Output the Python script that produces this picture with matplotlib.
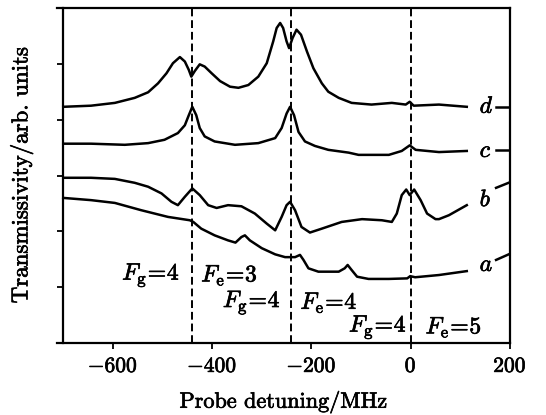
import matplotlib.pyplot as plt
import matplotlib.patheffects as pe
from matplotlib.text import Text

plt.rcParams['font.family'] = 'serif'
plt.rcParams['font.serif'] = ['cmr10', 'DejaVu Serif']
plt.rcParams['mathtext.fontset'] = 'cm'
plt.rcParams['axes.formatter.use_mathtext'] = True

# curve d (top)
d_x = [-700, -644, -596, -556, -529, -509, -492, -479, -465, -455, -447, -442,
       -435, -425, -415, -401, -384, -364, -347, -327, -307, -290, -277, -270,
       -263, -257, -250, -245, -238, -230, -221, -209, -196, -179, -166, -145,
       -119, -79, -38, -10, -2, 6, 57, 113]
d_y = [4.23, 4.25, 4.30, 4.39, 4.49, 4.65, 4.83, 5.01, 5.12, 5.04, 4.89, 4.77,
       4.87, 4.99, 4.95, 4.83, 4.69, 4.59, 4.57, 4.62, 4.77, 5.01, 5.40, 5.64,
       5.73, 5.64, 5.40, 5.28, 5.46, 5.61, 5.52, 5.22, 4.92, 4.65, 4.50, 4.39,
       4.30, 4.27, 4.30, 4.27, 4.32, 4.25, 4.27, 4.23]

# curve c
c_x = [-700, -644, -576, -529, -496, -469, -455, -447, -440, -432, -425, -415,
       -395, -354, -307, -273, -260, -250, -243, -235, -226, -213, -193, -166,
       -125, -105, -44, -18, -2, 10, 57, 113]
c_y = [3.57, 3.57, 3.55, 3.58, 3.64, 3.76, 3.90, 4.08, 4.23, 4.08, 3.85, 3.70,
       3.61, 3.55, 3.58, 3.67, 3.85, 4.11, 4.23, 4.08, 3.78, 3.61, 3.53, 3.46,
       3.41, 3.37, 3.37, 3.44, 3.54, 3.46, 3.42, 3.44]

# curve b
b_x = [-700, -644, -596, -556, -529, -502, -482, -469, -455, -440, -425, -408,
       -391, -368, -341, -314, -290, -273, -260, -250, -243, -233, -220, -203,
       -179, -139, -98, -58, -38, -28, -18, -9, -2, 7, 20, 33, 50, 57, 77, 113]
b_y = [2.96, 2.96, 2.94, 2.87, 2.80, 2.68, 2.53, 2.47, 2.62, 2.77, 2.65, 2.47,
       2.42, 2.47, 2.45, 2.32, 2.14, 2.02, 2.26, 2.47, 2.53, 2.38, 2.08, 1.98,
       2.05, 2.17, 2.22, 2.20, 2.17, 2.32, 2.65, 2.75, 2.65, 2.75, 2.56, 2.32,
       2.22, 2.22, 2.29, 2.47]

# curve a (bottom)
a_x = [-700, -644, -596, -543, -489, -445, -438, -422, -395, -368, -353, -341,
       -334, -324, -300, -273, -253, -233, -223, -216, -206, -186, -145, -133,
       -127, -119, -108, -85, -44, -7, -1, 9, 57, 113]
a_y = [2.60, 2.56, 2.51, 2.38, 2.26, 2.20, 2.17, 2.05, 1.93, 1.84, 1.80, 1.90,
       1.93, 1.84, 1.70, 1.59, 1.54, 1.54, 1.58, 1.49, 1.34, 1.28, 1.28, 1.34,
       1.40, 1.31, 1.19, 1.15, 1.15, 1.16, 1.20, 1.18, 1.22, 1.29]

# short pieces to the right of the curve labels
tail_x = [172, 200]
tail_d = [4.23, 4.23]
tail_c = [3.46, 3.46]
tail_b = [2.78, 2.88]
tail_a = [1.49, 1.60]

curve_names = ['d', 'c', 'b', 'a']
name_y = [4.23, 3.44, 2.56, 1.40]

resonances = [-440, -242, 0]

fig = plt.figure(figsize=(5.46, 4.15), dpi=100)
ax = fig.add_axes([0.104, 0.173, 0.83, 0.808])

for xs, ys in [(d_x, d_y), (c_x, c_y), (b_x, b_y), (a_x, a_y)]:
    ax.plot(xs, ys, color='black', lw=1.8, solid_joinstyle='round')
for ts in [tail_d, tail_c, tail_b, tail_a]:
    ax.plot(tail_x, ts, color='black', lw=1.8)

for name, y in zip(curve_names, name_y):
    ax.text(139, y, '$' + name + '$', fontsize=17, ha='left', va='center')

for r in resonances:
    ax.axvline(r, color='black', lw=1.4, linestyle=(0, (4, 2)))

# level labels
ax.text(-465, 1.22, r'$F_{\rm g}\!=\!4$', fontsize=17, ha='right', va='center')
ax.text(-422, 1.22, r'$F_{\rm e}\!=\!3$', fontsize=17, ha='left', va='center')
ax.text(-262, 0.73, r'$F_{\rm g}\!=\!4$', fontsize=17, ha='right', va='center')
ax.text(-222, 0.73, r'$F_{\rm e}\!=\!4$', fontsize=17, ha='left', va='center')
ax.text(-8, 0.29, r'$F_{\rm g}\!=\!4$', fontsize=17, ha='right', va='center')
ax.text(30, 0.29, r'$F_{\rm e}\!=\!5$', fontsize=17, ha='left', va='center')

ax.set_xlim(-713, 200)
ax.set_ylim(0, 6)
ax.spines['left'].set_position(('data', -700))
for s in ax.spines.values():
    s.set_linewidth(1.6)
ax.set_xticks([-600, -400, -200, 0, 200])
ax.set_yticks([1, 2, 3, 4, 5])
ax.set_yticklabels([])
ax.tick_params(direction='out', length=4.5, width=1.3, labelsize=15.5, pad=5)

ax.set_xlabel('Probe detuning/MHz', fontsize=16, labelpad=11)
ax.set_ylabel('Transmissivity/arb. units', fontsize=16.5, labelpad=12)

# the scanned original has heavier strokes on the lettering
for t in fig.findobj(Text):
    t.set_path_effects([pe.withStroke(linewidth=0.5, foreground='black')])

fig.savefig('out.png', dpi=100)
